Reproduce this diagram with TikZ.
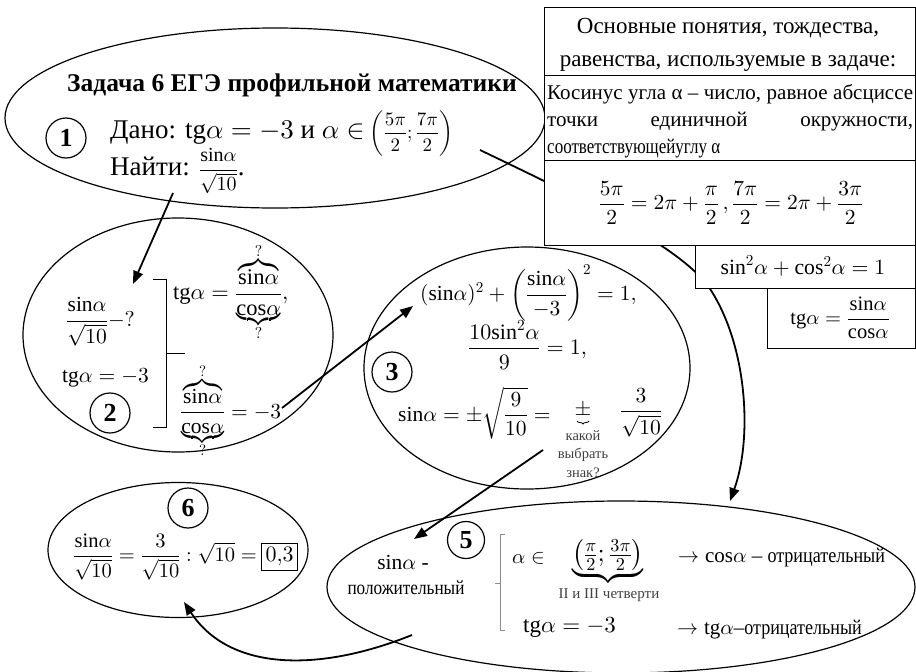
\documentclass[tikz,border=0pt]{standalone}
\usepackage{amsmath}
\usepackage{fontspec}
\setmainfont{Liberation Serif}
\DeclareFontShape{OML}{cmm}{m}{it}{<->cmmi10}{}
\DeclareFontShape{OMS}{cmsy}{m}{n}{<->cmsy10}{}
\DeclareFontShape{OMX}{cmex}{m}{n}{<->cmex10}{}
\DeclareFontShape{OT1}{cmr}{m}{n}{<->cmr10}{}
\usetikzlibrary{shapes.geometric,arrows.meta,decorations.pathreplacing}
\newcommand\fsz[2]{\fontsize{#1}{#2}\selectfont}
\newcommand\msin{\mathrm{sin}}
\newcommand\mcos{\mathrm{cos}}
\newcommand\mtg{\mathrm{tg}}
\newcommand\cond[2]{\scalebox{#1}[1]{#2}}
\begin{document}
\begin{tikzpicture}[x=1pt,y=-1pt,
  ell/.style={draw, ellipse, inner sep=0pt, line width=1.2pt},
  num/.style={draw, circle, line width=1.2pt, minimum size=40pt, inner sep=0pt, font=\bfseries\fsz{26}{26}},
  arr/.style={line width=1.8pt, -{Triangle[length=13pt,width=10pt]}},
  cell/.style={draw, fill=white, line width=1pt, inner sep=0pt},
  tx/.style={inner sep=0pt, anchor=west, font=\fsz{21.5}{24}},
  tc/.style={inner sep=0pt, font=\fsz{21.5}{24}},
  small/.style={inner sep=0pt, font=\fsz{15}{18}, text=black!75}
]
\useasboundingbox (0,0) rectangle (916,672);

% ellipses
\node[ell, minimum width=540pt, minimum height=180pt] (e1) at (275,118) {};
\node[ell, minimum width=310pt, minimum height=234pt] (e2) at (178,335) {};
\node[ell, minimum width=326pt, minimum height=242pt] (e3) at (527,368) {};
\node[ell, minimum width=588pt, minimum height=172pt] (e5) at (621,587) {};
\node[ell, minimum width=260pt, minimum height=135pt] (e6) at (178,550) {};

% connector coordinates
\coordinate (a1s) at (173,193);
\coordinate (a1e) at (133,284);
\coordinate (a2s) at (282,408);
\coordinate (a2e) at (413,306);
\coordinate (a3s) at (543,450);
\coordinate (a3e) at (414,539);
\coordinate (a4s) at (480,150);
\coordinate (a4m) at (712,292);
\coordinate (a4e) at (730,501);
\coordinate (a5s) at (412,635);
\coordinate (a5e) at (184,602);

\draw[arr] (a1s) -- (a1e);
\draw[arr] (a2s) -- (a2e);
\draw[arr] (a3s) -- (a3e);
\draw[arr] (a4s) .. controls (580,198) and (687,249) .. (a4m)
               .. controls (748,350) and (752,440) .. (a4e);
\draw[arr] (a5s) .. controls (320,672) and (230,672) .. (a5e);

% ---- ellipse 1
\node[inner sep=0pt, anchor=base, font=\bfseries\fsz{25.5}{28}] (title) at (292,91) {Задача 6 ЕГЭ профильной математики};
\node[inner sep=0pt, anchor=base west, font=\fsz{27}{30}] (dano) at (110,138) {Дано: $\mtg\alpha = -3$ и $\alpha \in$\hspace{5pt}{\fsz{19}{19}$\left(\dfrac{5\pi}{2};\dfrac{7\pi}{2}\right)$}};
\node[inner sep=0pt, anchor=base west, font=\fsz{27}{30}] (najti) at (110,175) {Найти: {\fsz{20}{20}$\dfrac{\msin\alpha}{\sqrt{10}}$}.};
\node[num] (n1) at (66,138) {1};

% ---- ellipse 2
\node[tx] (q1) at (66,322) {$\dfrac{\msin\alpha}{\sqrt{10}}-?$};
\node[tx] (q2) at (62,378) {$\mtg\alpha = -3$};
\node[num] (n2) at (110,413) {2};
\draw[line width=1pt] (153,279) -- (166,279) -- (166,427) -- (153,427);
\draw[line width=1pt] (166,353) -- (185,353);
\node[tx, font=\fsz{22.5}{24}] (q3) at (173,292) {$\mtg\alpha = \dfrac{\overbrace{\msin\alpha}^{?}}{\underbrace{\mcos\alpha}_{?}},$};
\node[tx] (q4) at (180,411) {$\dfrac{\overbrace{\msin\alpha}^{?}}{\underbrace{\mcos\alpha}_{?}} = -3$};

% ---- ellipse 3
\node[tx] (r1) at (420,293) {$(\msin\alpha)^2 + \left(\dfrac{\msin\alpha}{-3}\right)^2 = 1,$};
\node[tx, font=\fsz{22}{24}] (r2) at (468,345) {$\dfrac{10\msin^2\alpha}{9} = 1,$};
\node[num] (n3) at (392,372) {3};
\node[tx] (r3) at (398,413) {$\msin\alpha = \pm\sqrt{\dfrac{9}{10}} =$};
\node[tc] (pm) at (583,410) {$\pm$};
\draw[decorate, decoration={brace, amplitude=3pt, mirror}, line width=0.8pt] (577,421) -- (589,421);
\node[tx] (r4) at (620,413) {$\dfrac{3}{\sqrt{10}}$};
\node[small, align=center, font=\fsz{14.5}{18.5}] (znak) at (583,454) {какой\\выбрать\\знак?};

% ---- ellipse 5
\node[num, minimum size=37pt] (n5) at (466,540) {5};
\node[tc] (p1) at (403,562) {$\msin\alpha$ -};
\node[tc, font=\fsz{20}{22}] (p2) at (406,588) {\cond{0.86}{положительный}};
\draw[line width=1pt, black!45] (505,534) -- (500,534) -- (500,630) -- (505,630);
\draw[line width=1pt, black!45] (500,583) -- (495,583);
\node[tx, font=\fsz{20.5}{24}] (p3) at (512,558) {$\alpha \in$};
\node[tc, font=\fsz{26}{26}] (p4) at (608,560) {$\underbrace{\left(\tfrac{\pi}{2};\tfrac{3\pi}{2}\right)}$};
\node[small] (p5) at (609,595) {II и III четверти};
\node[tx, font=\fsz{21}{24}] (p6) at (678,558) {$\rightarrow \mcos\alpha$ -- \cond{0.86}{отрицательный}};
\node[tx, font=\fsz{23}{24}] (p7) at (523,628) {$\mtg\alpha = -3$};
\node[tx, font=\fsz{21}{24}] (p8) at (677,630) {$\rightarrow \mtg\alpha$--\cond{0.86}{отрицательный}};

% ---- ellipse 6
\node[num] (n6) at (188,508) {6};
\node[tx, font=\fsz{20.5}{24}] (s1) at (73,557) {$\dfrac{\msin\alpha}{\sqrt{10}} = \dfrac{3}{\sqrt{10}}:\sqrt{10} = $};
\node[draw, line width=1pt, inner xsep=4pt, inner ysep=4pt, anchor=west, font=\fsz{22}{24}] (ans) at ([xshift=4pt]s1.east) {$0{,}3$};

% ---- boxes (top right)
\node[cell, minimum width=371pt, minimum height=68pt] (b1) at (729.5,41) {};
\node[cell, minimum width=371pt, minimum height=85pt] (b2) at (729.5,117.5) {};
\node[cell, minimum width=371pt, minimum height=85pt] (b3) at (729.5,202.5) {};
\node[cell, minimum width=220pt, minimum height=43pt] (b4) at (805,266.5) {};
\node[cell, minimum width=148pt, minimum height=60pt] (b5) at (841,318) {};

\node[tc, anchor=base, font=\fsz{23}{26}] (h1) at (728,33) {Основные понятия, тождества,};
\node[tc, anchor=base, font=\fsz{23}{26}] (h2) at (728,66) {равенства, используемые в задаче:};
\node[tc, anchor=base west, font=\fsz{21}{24}] (k1) at (547,99) {\makebox[366pt][s]{Косинус угла α – число, равное абсциссе}};
\node[tc, anchor=base west, font=\fsz{21}{24}] (k2) at (547,126) {\makebox[366pt][s]{точки\hfill единичной\hfill окружности,}};
\node[tc, anchor=base west, font=\fsz{21}{24}] (k3) at (547,153) {\cond{0.81}{соответствующейуглу α}};
\node[tc, font=\fsz{21.5}{24}] (f1) at (731,203) {$\dfrac{5\pi}{2} = 2\pi + \dfrac{\pi}{2}\,,\dfrac{7\pi}{2} = 2\pi + \dfrac{3\pi}{2}$};
\node[tc, font=\fsz{21.7}{24}] (f2) at (803,266) {$\msin^2\alpha + \mcos^2\alpha = 1$};
\node[tc, font=\fsz{20.5}{24}] (f3) at (840,318) {$\mtg\alpha = \dfrac{\msin\alpha}{\mcos\alpha}$};
\end{tikzpicture}
\end{document}
